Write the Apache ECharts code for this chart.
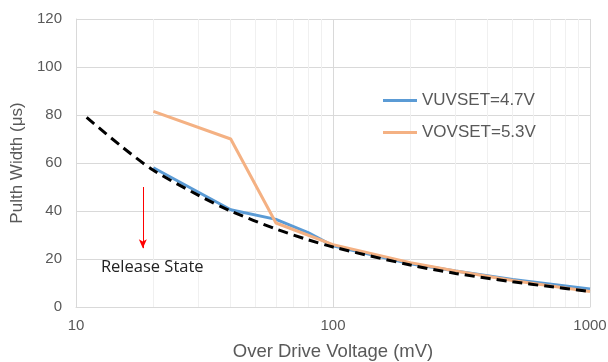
<!DOCTYPE html>
<html>
<head>
<meta charset="utf-8">
<script src="https://cdn.jsdelivr.net/npm/echarts@6/dist/echarts.min.js"></script>
<style>
  html, body { margin: 0; padding: 0; background: #fff; }
  #chart { width: 608px; height: 362px; }
</style>
</head>
<body>
<div id="chart"></div>
<script>
// data
var refX = [11, 15, 20, 30, 40, 60, 80, 100, 200, 300, 500, 700, 1000];
var refY = [79, 67, 57, 46.5, 40, 32.5, 28, 25, 17.5, 14, 10.5, 8.5, 6.5];

var uvX = [20, 40, 60, 80, 100, 200, 300, 500, 1000];
var uvY = [58, 40.5, 36.5, 31, 25.5, 18, 15, 11.5, 7.5];

var ovX = [20, 40, 60, 100, 200, 300, 500, 1000];
var ovY = [81.5, 70, 35, 26, 18.5, 15, 11, 6.5];

var minorX = [20, 30, 40, 50, 60, 70, 80, 90, 200, 300, 400, 500, 600, 700, 800, 900];
var yTicks = [0, 20, 40, 60, 80, 100, 120];

function pairs(xs, ys) {
    return xs.map(function (x, i) { return [x, ys[i]]; });
}

var grey = '#595959';
var chart = echarts.init(document.getElementById('chart'));

var option = {
    animation: false,
    grid: { left: 76, right: 18, top: 19, bottom: 55, outerBoundsMode: 'none', containLabel: false },
    legend: {
        orient: 'vertical',
        left: 383,
        top: 92,
        padding: 0,
        itemWidth: 34,
        itemHeight: 3,
        itemGap: 15,
        icon: 'rect',
        z: 10,
        textStyle: { color: grey, fontSize: 17, fontFamily: 'Liberation Sans, Arial' },
        data: ['VUVSET=4.7V', 'VOVSET=5.3V']
    },
    xAxis: {
        type: 'log',
        logBase: 10,
        min: 10,
        max: 1000,
        name: 'Over Drive Voltage (mV)',
        nameLocation: 'middle',
        nameGap: 35,
        nameTextStyle: { color: grey, fontSize: 18.5, fontFamily: 'Liberation Sans, Arial' },
        axisLine: { show: true, lineStyle: { color: '#d9d9d9' } },
        axisTick: { show: false },
        axisLabel: {
            color: grey, fontSize: 15, margin: 11, fontFamily: 'Liberation Sans, Arial',
            formatter: function (v) { return String(Math.round(v)); }
        },
        splitLine: { show: true, lineStyle: { color: '#d9d9d9' } }
    },
    yAxis: {
        type: 'value',
        min: yTicks[0],
        max: yTicks[yTicks.length - 1],
        interval: 20,
        name: 'Pulth Width (μs)',
        nameLocation: 'middle',
        nameGap: 45,
        nameTextStyle: { color: grey, fontSize: 17, fontFamily: 'Liberation Sans, Arial' },
        axisLine: { show: true, lineStyle: { color: '#d9d9d9' } },
        axisTick: { show: false },
        axisLabel: { color: grey, fontSize: 15, margin: 14, fontFamily: 'Liberation Sans, Arial' },
        splitLine: { show: true, lineStyle: { color: '#d9d9d9' } }
    },
    series: [
        {
            // minor grid lines
            name: 'minor',
            type: 'line',
            data: [],
            silent: true,
            z: 0,
            markLine: {
                silent: true,
                symbol: 'none',
                z: 0,
                label: { show: false },
                lineStyle: { color: '#f0f0f0', width: 1, type: 'solid' },
                data: minorX.map(function (v) { return { xAxis: v }; })
            }
        },
        {
            name: 'VUVSET=4.7V',
            type: 'line',
            data: pairs(uvX, uvY),
            showSymbol: false,
            lineStyle: { color: '#5b9bd5', width: 3 },
            itemStyle: { color: '#5b9bd5' },
            z: 3
        },
        {
            name: 'VOVSET=5.3V',
            type: 'line',
            data: pairs(ovX, ovY),
            showSymbol: false,
            lineStyle: { color: '#f4b183', width: 3 },
            itemStyle: { color: '#f4b183' },
            z: 4
        },
        {
            name: 'ref',
            type: 'line',
            data: pairs(refX, refY),
            showSymbol: false,
            smooth: 0.3,
            lineStyle: { color: '#000', width: 3, type: [10, 6] },
            z: 5,
            markLine: {
                silent: true,
                symbol: ['none', 'arrow'],
                symbolSize: [6, 9],
                label: { show: false },
                lineStyle: { color: '#ff0000', width: 1, type: 'solid' },
                data: [[{ coord: [18.2, 50] }, { coord: [18.2, 24.5] }]]
            },
            markPoint: {
                silent: true,
                symbol: 'rect',
                symbolSize: [1, 1],
                itemStyle: { color: 'rgba(0,0,0,0)' },
                label: {
                    show: true,
                    formatter: 'Release State',
                    color: '#222',
                    fontSize: 16.5,
                    fontFamily: 'Open Sans, Lato',
                    position: 'inside'
                },
                data: [{ coord: [19.8, 16.5] }]
            }
        }
    ]
};

chart.setOption(option);
</script>
</body>
</html>
